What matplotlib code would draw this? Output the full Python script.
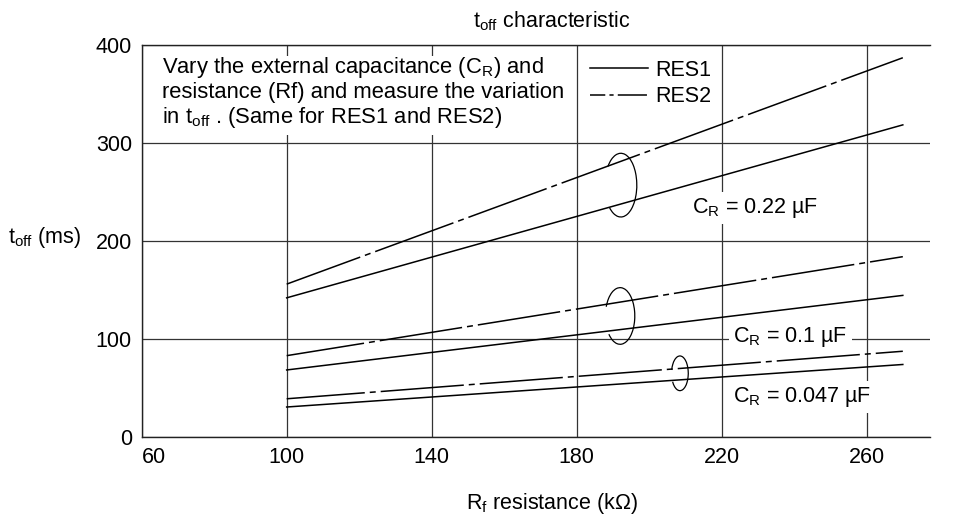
import numpy as np
import matplotlib
matplotlib.use('Agg')
import matplotlib.pyplot as plt
from matplotlib.lines import Line2D
from matplotlib.patches import Arc, Rectangle

plt.rcParams['font.family'] = ['Liberation Sans', 'DejaVu Sans']
plt.rcParams['mathtext.fontset'] = 'custom'
plt.rcParams['mathtext.rm'] = 'Liberation Sans'
plt.rcParams['mathtext.it'] = 'Liberation Sans:italic'
plt.rcParams['lines.scale_dashes'] = False

# Rf resistance (kOhm) at the ends of each line
rf = [100, 270]

# t_off (ms)
res1_022 = [142, 318.5]
res2_022 = [156, 387]
res1_01 = [68.4, 144.5]
res2_01 = [83, 184]
res1_0047 = [30.6, 74]
res2_0047 = [39, 87.5]

x_ticks = [60, 100, 140, 180, 220, 260]
y_ticks = [0, 100, 200, 300, 400]

FS = 15.5
DASHDOT = (3.6, (60, 3.6, 4.3, 3.6))


def arc_theta(t, w, h):
    # parametric angle on the ellipse -> angle Arc expects
    t = np.deg2rad(t)
    return np.rad2deg(np.arctan2(h * np.sin(t), w * np.cos(t)))


fig = plt.figure(figsize=(9.57, 5.19), dpi=100)
ax = fig.add_axes([141.7 / 957, 1 - 437 / 519, (930 - 141.7) / 957, 392 / 519])
ax.set_xlim(60, 277.5)
ax.set_ylim(0, 400)
ax.set_xticks(x_ticks)
ax.set_yticks(y_ticks)
ax.tick_params(length=0, pad=7, labelsize=FS)
ax.get_xticklabels()[0].set_horizontalalignment('left')
ax.spines['right'].set_visible(False)
for s in ax.spines.values():
    s.set_linewidth(1.0)
    s.set_color('#222222')
ax.grid(True, color='#333333', linewidth=0.9)
ax.set_axisbelow(True)

for r1, r2 in [(res1_022, res2_022), (res1_01, res2_01), (res1_0047, res2_0047)]:
    ax.plot(rf, r1, color='black', lw=1.1)
    ax.plot(rf, r2, color='black', lw=1.1, linestyle=DASHDOT)

# loops grouping each RES1/RES2 pair (gap where the lines pass)
for (cx, cy, w, h, t1, t2) in [(192.2, 257, 8.8, 65, 225, 504),
                               (192.0, 123.5, 8.1, 57.8, 220, 521),
                               (208.5, 65, 4.6, 35.4, 209, 529)]:
    a1 = arc_theta(t1, w, h)
    a2 = arc_theta(t2 - 360, w, h)
    ax.add_patch(Arc((cx, cy), w, h, theta1=a1, theta2=a2, lw=0.9, color='black'))

box = dict(boxstyle='square,pad=0.2', fc='white', ec='none')
ax.text(211.8, 233.7, r'C$_\mathregular{R}$ = 0.22 µF', fontsize=FS, va='center', bbox=box)
ax.text(223.2, 102, r'C$_\mathregular{R}$ = 0.1 µF', fontsize=FS, va='center', bbox=box)
ax.text(223.2, 40.8, r'C$_\mathregular{R}$ = 0.047 µF', fontsize=FS, va='center', bbox=box)

# white panel behind the note (grid hidden there, 180 line stays visible)
ax.add_patch(Rectangle((61, 308.5), 116, 80, fc='white', ec='none', zorder=1))
ax.text(65.6, 351.5,
        'Vary the external capacitance (C$_\\mathregular{R}$) and\n'
        'resistance (Rf) and measure the variation\n'
        'in t$_\\mathregular{off}$ . (Same for RES1 and RES2)',
        fontsize=15.8, va='center', linespacing=1.1)

handles = [Line2D([], [], color='black', lw=1.1),
           Line2D([], [], color='black', lw=1.1, linestyle=(10, (21, 3, 3, 3)))]
ax.legend(handles, ['RES1', 'RES2'], loc='upper left',
          bbox_to_anchor=((590 - 141.7) / 788.3, 0.962), frameon=False,
          fontsize=FS, handlelength=2.7, handletextpad=0.35,
          borderpad=0, borderaxespad=0, labelspacing=0.25)

fig.text(552 / 957, 1 - 27 / 519, r't$_\mathregular{off}$ characteristic',
         ha='center', va='baseline', fontsize=FS)
fig.text(8 / 957, 1 - 243 / 519, r't$_\mathregular{off}$ (ms)',
         va='baseline', fontsize=FS)
fig.text(552 / 957, 1 - 509 / 519, r'R$_\mathregular{f}$ resistance (kΩ)',
         ha='center', va='baseline', fontsize=FS)

fig.savefig('out.png', dpi=100)
